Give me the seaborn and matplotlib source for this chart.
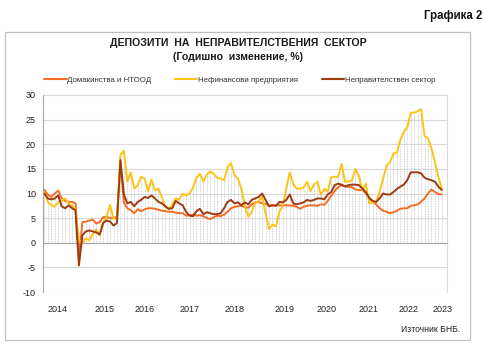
import numpy as np
import pandas as pd
import matplotlib
matplotlib.use("Agg")
import matplotlib.pyplot as plt
import matplotlib.transforms as mtransforms
from matplotlib.lines import Line2D
from matplotlib.patches import Rectangle
import seaborn as sns

# ---------------- data (annual growth, %; monthly Jan 2014 - Aug 2023) ----------------
households = [10.7, 9.8, 9.3, 10.0, 10.6, 9.0, 8.5, 8.3, 8.3, 8.0,
              -3.0, 4.2, 4.3, 4.5, 4.7, 3.9, 4.2, 5.2, 5.3, 5.0,
              5.0, 5.3, 16.3, 8.2, 7.0, 6.6, 6.0, 6.8, 6.4, 6.8,
              7.0, 7.0, 6.9, 6.7, 6.5, 6.4, 6.3, 6.3, 6.1, 6.0,
              6.0, 5.5, 5.6, 5.7, 5.5, 5.6, 5.4, 5.0, 4.8, 5.2,
              5.5, 5.4, 5.7, 6.3, 7.0, 7.3, 7.4, 7.5, 7.2, 7.1,
              7.8, 8.2, 8.3, 8.0, 7.9, 7.6, 7.6, 7.6, 7.6, 7.6,
              7.6, 7.6, 7.5, 7.3, 6.9, 7.3, 7.5, 7.6, 7.6, 7.5,
              7.8, 7.7, 8.5, 9.5, 10.5, 11.3, 11.7, 11.5, 11.3, 11.3,
              10.8, 10.7, 10.7, 10.1, 9.1, 8.3, 7.8, 7.0, 6.5, 6.3,
              6.0, 6.2, 6.5, 6.9, 7.0, 7.0, 7.5, 7.6, 7.8, 8.3,
              9.0, 10.0, 10.8, 10.3, 9.9, 9.8]

nonfinancial = [10.3, 8.3, 7.6, 7.3, 8.3, 8.5, 9.0, 8.0, 7.5, 6.6,
                0.5, -0.1, 0.9, 0.5, 1.8, 2.7, 1.4, 4.0, 5.3, 7.7,
                4.8, 5.0, 17.8, 18.7, 12.4, 14.3, 11.0, 11.7, 13.4, 13.0,
                10.5, 12.8, 10.6, 11.0, 9.2, 7.2, 6.8, 7.8, 9.0, 8.7,
                10.0, 9.6, 10.0, 11.2, 13.2, 14.0, 12.4, 13.8, 14.5, 14.0,
                13.2, 13.0, 12.7, 15.3, 16.2, 13.8, 13.0, 11.0, 7.5, 5.3,
                6.3, 8.0, 8.5, 9.3, 6.0, 2.8, 3.7, 3.3, 6.3, 7.5,
                11.0, 14.3, 12.0, 11.0, 11.0, 11.2, 12.4, 10.5, 11.8, 12.4,
                9.7, 11.0, 10.4, 13.3, 13.4, 13.4, 16.0, 12.4, 12.4, 12.7,
                15.0, 13.6, 10.7, 12.0, 8.0, 8.2, 8.3, 10.4, 13.0, 15.6,
                16.4, 18.1, 18.3, 20.9, 22.5, 23.4, 26.4, 26.4, 26.7, 27.1,
                21.7, 21.2, 19.2, 16.4, 13.4, 11.0]

total = [10.0, 9.0, 8.8, 9.0, 9.6, 7.4, 7.0, 7.6, 7.0, 6.6,
         -4.6, 1.5, 2.3, 2.5, 2.3, 2.1, 1.7, 4.0, 4.5, 4.3,
         3.5, 4.0, 16.8, 9.8, 8.0, 8.3, 7.4, 8.3, 8.7, 9.3,
         9.1, 9.6, 9.0, 8.3, 8.0, 7.4, 6.9, 7.0, 8.5, 8.0,
         7.6, 6.3, 5.5, 5.4, 6.4, 6.9, 5.8, 6.2, 6.0, 5.8,
         5.8, 6.0, 7.0, 8.3, 8.7, 8.0, 8.2, 7.6, 8.2, 7.8,
         8.7, 9.0, 9.3, 10.0, 8.7, 7.4, 7.6, 7.5, 8.3, 8.2,
         8.7, 9.8, 8.0, 7.8, 8.0, 8.2, 8.7, 8.5, 8.7, 9.0,
         9.0, 8.8, 9.8, 10.3, 11.7, 12.0, 11.8, 11.4, 11.7, 11.8,
         11.8, 11.7, 11.0, 10.3, 9.1, 8.5, 8.3, 9.0, 10.0, 9.8,
         9.8, 10.3, 10.9, 11.4, 11.8, 12.7, 14.3, 14.3, 14.3, 14.1,
         13.2, 12.9, 12.7, 12.4, 11.4, 10.7]

series_names = ["Домакинства и НТООД", "Нефинансови предприятия", "Неправителствен сектор"]
series_colors = ["#F46D25", "#FCC416", "#9E3A10"]
year_labels = ["2014", "2015", "2016", "2017", "2018", "2019", "2020", "2021", "2022", "2023"]
year_label_pos = [3.9, 17.3, 29.1, 42.1, 55.1, 69.5, 81.6, 93.8, 105.3, 115.1]
y_ticks = [-10, -5, 0, 5, 10, 15, 20, 25, 30]

months = np.arange(len(total))
df = pd.DataFrame({
    "month": np.tile(months, 3),
    "value": households + nonfinancial + total,
    "series": np.repeat(series_names, len(months)),
})

# ---------------- figure ----------------
sns.set_theme(style="white")
plt.rcParams["font.family"] = ["Liberation Sans", "DejaVu Sans"]

fig = plt.figure(figsize=(4.85, 3.55), dpi=100)
ax = fig.add_axes([43 / 485, 1 - 292 / 355, (447 - 43) / 485, (292 - 95) / 355])

# drop lines (light dotted verticals)
maxvals = np.max(np.vstack([households, nonfinancial, total]), axis=0)
ax.vlines(months, 0, maxvals, colors="#c4c4c4", linestyles=(0, (1, 1)), linewidth=0.6, zorder=1)

sns.lineplot(data=df, x="month", y="value", hue="series", hue_order=series_names,
             palette=series_colors, linewidth=1.4, ax=ax, legend=False, zorder=3)

ax.set_xlim(-0.4, 116.5)
ax.set_ylim(-10, 30)
ax.set_yticks(y_ticks)
ax.set_yticklabels([str(t) for t in y_ticks], fontsize=6.5, color="#222222")
ax.yaxis.grid(True, color="#d9d9d9", linewidth=0.8)
ax.set_axisbelow(True)
ax.set_xlabel("")
ax.set_ylabel("")

# x-axis on zero line
ax.spines["bottom"].set_position(("data", 0))
ax.spines["bottom"].set_color("#a6a6a6")
ax.spines["bottom"].set_linewidth(0.8)
ax.spines["left"].set_color("#a6a6a6")
ax.spines["left"].set_linewidth(0.8)
ax.spines["right"].set_color("#d9d9d9")
ax.spines["right"].set_linewidth(0.8)
ax.spines["top"].set_visible(False)

ax.set_xticks(np.arange(0, 117, 12))
ax.set_xticks(months, minor=True)
ax.set_xticklabels([])
ax.tick_params(axis="x", which="major", direction="out", length=3, color="#a6a6a6", width=0.6)
ax.tick_params(axis="x", which="minor", direction="out", length=1.8, color="#a6a6a6", width=0.5)
ax.tick_params(axis="y", which="major", direction="out", length=3, color="#a6a6a6", width=0.6, pad=2)

# year labels
trans = mtransforms.blended_transform_factory(ax.transData, fig.transFigure)
for lab, pos in zip(year_labels, year_label_pos):
    ax.text(pos, 1 - 309 / 355, lab, transform=trans, ha="center", va="center",
            fontsize=6.5, color="#222222")

# titles
fig.text(238 / 485, 1 - 43 / 355, "ДЕПОЗИТИ  НА  НЕПРАВИТЕЛСТВЕНИЯ  СЕКТОР", ha="center", va="center",
         fontsize=7.6, fontweight="bold", color="#1a1a1a")
fig.text(238 / 485, 1 - 57 / 355, "(Годишно  изменение, %)", ha="center", va="center",
         fontsize=7.6, fontweight="bold", color="#1a1a1a")
fig.text(482 / 485, 1 - 16 / 355, "Графика 2", ha="right", va="center",
         fontsize=8.3, fontweight="bold", color="#111111")
fig.text(460 / 485, 1 - 329 / 355, "Източник БНБ.", ha="right", va="center",
         fontsize=6.2, color="#222222")

# legend
handles = [Line2D([0], [0], color=c, linewidth=1.5) for c in series_colors]
fig.legend(handles, series_names, loc="center", bbox_to_anchor=(240 / 485, 1 - 80 / 355),
           ncol=3, frameon=False, fontsize=5.7, handlelength=2.8, handletextpad=0.1,
           columnspacing=3.0, labelcolor="#333333")

# outer border
fig.patches.append(Rectangle((5 / 485, 1 - 340 / 355), (470 - 5) / 485, (340 - 32) / 355,
                             transform=fig.transFigure, fill=False, edgecolor="#bfbfbf",
                             linewidth=0.9))

fig.savefig("out.png", dpi=100)
